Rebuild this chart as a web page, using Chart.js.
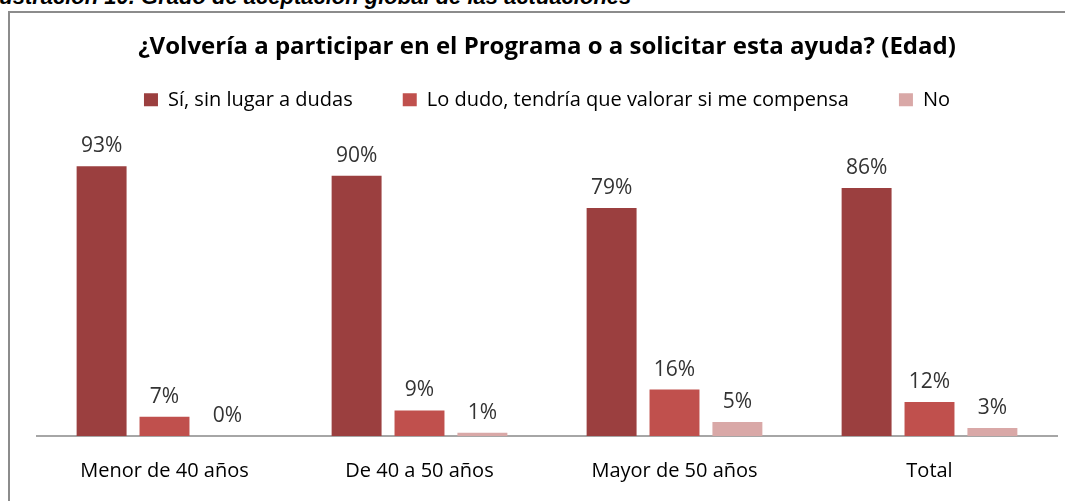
<!DOCTYPE html>
<html>
<head>
<meta charset="utf-8">
<script src="https://cdn.jsdelivr.net/npm/chart.js@4"></script>
<style>
  html, body { margin: 0; padding: 0; background: #fff; width: 1065px; height: 501px; overflow: hidden; }
  #wrap { position: relative; width: 1065px; height: 501px; }
  #caption { position: absolute; left: -13px; top: -15px; line-height: 24px; font-family: "Liberation Sans", Arial, sans-serif; font-weight: bold; font-style: italic; font-size: 22px; color: #000; white-space: nowrap; }
  #frame { position: absolute; left: 8px; top: 11px; width: 1100px; height: 560px; border: 2px solid #8c8c8c; box-sizing: border-box; }
  canvas { position: absolute; left: 0; top: 0; }
</style>
</head>
<body>
<div id="wrap">
  <div id="caption">Ilustración 10. Grado de aceptación global de las actuaciones</div>
  <div id="frame"></div>
  <canvas id="c" width="1065" height="501"></canvas>
</div>
<script>
const chartTitle = "¿Volvería a participar en el Programa o a solicitar esta ayuda? (Edad)";
const categories = ["Menor de 40 años", "De 40 a 50 años", "Mayor de 50 años", "Total"];
const seriesNames = ["Sí, sin lugar a dudas", "Lo dudo, tendría que valorar si me compensa", "No"];
const siValues = [93.0, 89.7, 78.6, 85.5];
const dudoValues = [6.6, 8.8, 16.0, 11.7];
const noValues = [0, 1.1, 4.8, 2.8];
const seriesColors = ["#9b3f3f", "#c0504d", "#d9a8a7"];

const FONT = '"Open Sans", "Noto Sans", sans-serif';

const labelPlugin = {
  id: 'barLabels',
  afterDatasetsDraw(chart) {
    const ctx = chart.ctx;
    ctx.save();
    ctx.font = '21px ' + FONT;
    ctx.fillStyle = '#333';
    ctx.textAlign = 'center';
    ctx.textBaseline = 'alphabetic';
    chart.data.datasets.forEach((ds, i) => {
      const meta = chart.getDatasetMeta(i);
      meta.data.forEach((bar, j) => {
        const v = ds.data[j];
        ctx.fillText(Math.round(v) + '%', bar.x, bar.y - 14);
      });
    });
    ctx.restore();
  }
};

new Chart(document.getElementById('c'), {
  type: 'bar',
  data: {
    labels: categories,
    datasets: [
      { label: seriesNames[0], data: siValues, backgroundColor: seriesColors[0] },
      { label: seriesNames[1], data: dudoValues, backgroundColor: seriesColors[1] },
      { label: seriesNames[2], data: noValues, backgroundColor: seriesColors[2] }
    ]
  },
  options: {
    responsive: false,
    animation: false,
    devicePixelRatio: 1,
    categoryPercentage: 0.74,
    barPercentage: 0.794,
    layout: { padding: { left: 37, right: 8, bottom: -5, top: 0 } },
    plugins: {
      title: {
        display: true,
        text: chartTitle,
        color: '#000',
        font: { family: FONT, size: 24, weight: 'bold' },
        padding: { top: 33, bottom: -22 }
      },
      legend: {
        display: true,
        position: 'top',
        labels: {
          color: '#000',
          boxWidth: 14,
          boxHeight: 13,
          padding: 50,
          font: { family: FONT, size: 20 }
        }
      },
      tooltip: { enabled: false }
    },
    scales: {
      x: {
        grid: { display: false, drawTicks: false },
        border: { display: true, color: '#a6a6a6', width: 2 },
        ticks: {
          color: '#000',
          padding: 23,
          font: { family: FONT, size: 20 }
        }
      },
      y: {
        display: false,
        min: 0,
        max: 109
      }
    }
  },
  plugins: [labelPlugin]
});
</script>
</body>
</html>
